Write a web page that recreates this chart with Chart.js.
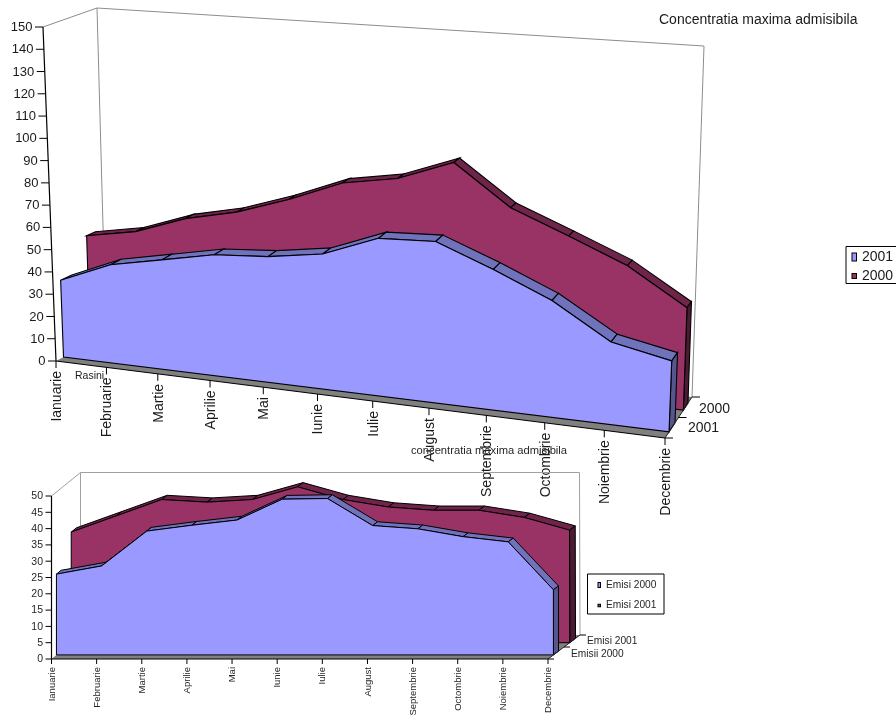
<!DOCTYPE html>
<html>
<head>
<meta charset="utf-8">
<title>Concentratia maxima admisibila</title>
<script src="https://cdn.jsdelivr.net/npm/chart.js@4/dist/chart.umd.min.js"></script>
<style>
  html, body { margin: 0; padding: 0; background: #fff; }
  #wrap { position: relative; width: 896px; height: 715px; overflow: hidden; }
  canvas { position: absolute; left: 0; top: 0; }
</style>
</head>
<body>
<div id="wrap">
  <canvas id="concentratie" width="896" height="715"></canvas>
  <canvas id="emisii" width="896" height="715"></canvas>
</div>
<script>
const months = ["Ianuarie", "Februarie", "Martie", "Aprilie", "Mai", "Iunie", "Iulie", "August", "Septembrie", "Octombrie", "Noiembrie", "Decembrie"];

const conc2001 = [34.6, 44, 48.6, 53.2, 54.8, 58.3, 67.4, 68.4, 59, 48.5, 34, 29];
const conc2000 = [49, 53, 61, 66, 73.7, 83, 87, 96, 78.5, 68.6, 58.3, 43];

const emisi2000 = [24.8, 27.3, 38, 39.8, 41.4, 47.8, 48, 39.7, 38.7, 36.3, 34.7, 20];
const emisi2001 = [34, 39, 44, 43.2, 44, 47.9, 44, 41.7, 40.7, 40.7, 38.5, 34.6];

const FONT = '"Liberation Sans", Arial, sans-serif';

function lerp(a, b, t) {
  return [a[0] + (b[0] - a[0]) * t, a[1] + (b[1] - a[1]) * t];
}

// scale pixel -> position inside the slanted box
function project(chart, view, px, py, depth) {
  const area = chart.chartArea;
  let u = (px - area.left) / (area.right - area.left);
  const v = (area.bottom - py) / (area.bottom - area.top);
  // months bunch up towards the far end, a bit more on the rear plane
  const w = view.persp + (view.perspBack - view.persp) * depth;
  u = u * w / (1 - u + u * w);
  const b = view.box;
  const front = lerp(lerp(b.fbl, b.fbr, u), lerp(b.ftl, b.ftr, u), v);
  const back = lerp(lerp(b.bbl, b.bbr, u), lerp(b.btl, b.btr, u), v);
  return lerp(front, back, depth);
}

function poly(ctx, pts, fill, stroke, width) {
  ctx.beginPath();
  pts.forEach(function(p, i) {
    if (i === 0) ctx.moveTo(p[0], p[1]);
    else ctx.lineTo(p[0], p[1]);
  });
  ctx.closePath();
  if (fill) {
    ctx.fillStyle = fill;
    ctx.fill();
  }
  if (stroke) {
    ctx.strokeStyle = stroke;
    ctx.lineWidth = width || 1;
    ctx.stroke();
  }
}

function line(ctx, a, b, color, width) {
  ctx.beginPath();
  ctx.moveTo(a[0], a[1]);
  ctx.lineTo(b[0], b[1]);
  ctx.strokeStyle = color;
  ctx.lineWidth = width || 1;
  ctx.stroke();
}

function text(ctx, str, x, y, font, color, align) {
  ctx.font = font;
  ctx.fillStyle = color;
  ctx.textAlign = align || "left";
  ctx.textBaseline = "middle";
  ctx.fillText(str, x, y);
}

const area3d = {
  id: "area3d",
  afterDraw(chart) {
    const ctx = chart.ctx;
    const view = chart.options.plugins.area3d;
    const b = view.box;
    const xs = chart.scales.x;
    const ys = chart.scales.y;
    ctx.save();

    // walls and floor
    poly(ctx, [b.fbl, b.fbr, b.bbr, b.bbl], "#808080");
    line(ctx, b.ftl, b.btl, view.wall);
    line(ctx, b.btl, b.btr, view.wall);
    line(ctx, b.btr, b.bbr, view.wall);
    line(ctx, b.btl, b.bbl, view.wall);

    // rear series first so the front one covers it
    for (let n = chart.data.datasets.length - 1; n >= 0; n--) {
      const ds = chart.data.datasets[n];
      const pts = chart.getDatasetMeta(n).data;
      const d0 = view.depths[n][0];
      const d1 = view.depths[n][1];
      const base = ys.getPixelForValue(0);
      for (let i = 0; i < pts.length - 1; i++) {
        poly(ctx, [
          project(chart, view, pts[i].x, pts[i].y, d0),
          project(chart, view, pts[i + 1].x, pts[i + 1].y, d0),
          project(chart, view, pts[i + 1].x, pts[i + 1].y, d1),
          project(chart, view, pts[i].x, pts[i].y, d1)
        ], ds.topColor, "#000", view.edge);
      }
      const last = pts[pts.length - 1];
      poly(ctx, [
        project(chart, view, last.x, base, d0),
        project(chart, view, last.x, last.y, d0),
        project(chart, view, last.x, last.y, d1),
        project(chart, view, last.x, base, d1)
      ], ds.sideColor, "#000", view.edge);

      const face = [project(chart, view, pts[0].x, base, d0)];
      pts.forEach(function(p) {
        face.push(project(chart, view, p.x, p.y, d0));
      });
      face.push(project(chart, view, last.x, base, d0));
      poly(ctx, face, ds.backgroundColor, "#000", view.edge);
    }

    // value axis
    const axisEnd = project(chart, view, xs.left, ys.getPixelForValue(ys.max), 0);
    const axisStart = project(chart, view, xs.left, ys.getPixelForValue(0), 0);
    line(ctx, axisStart, axisEnd, "#000", 1.2);
    ys.ticks.forEach(function(tick) {
      const p = project(chart, view, xs.left, ys.getPixelForValue(tick.value), 0);
      line(ctx, [p[0] - view.tickLen, p[1]], p, "#000");
      text(ctx, String(tick.value), p[0] - view.tickLen - 2.5, p[1] + 0.5, view.valueFont, view.ink, "right");
    });

    // month axis
    line(ctx, b.fbl, b.fbr, "#000", 1.2);
    months.forEach(function(m, i) {
      const p = project(chart, view, xs.getPixelForValue(i), ys.getPixelForValue(0), 0);
      line(ctx, p, [p[0], p[1] + view.tickLen - 1], "#000");
      ctx.save();
      ctx.translate(p[0] + view.labelDx, p[1] + view.labelGap);
      ctx.rotate(-Math.PI / 2);
      text(ctx, m, 0, 0, view.monthFont, view.ink, "right");
      ctx.restore();
    });

    // series axis on the floor
    line(ctx, b.fbr, b.bbr, "#222");
    [0, 0.5, 1].forEach(function(d) {
      const p = lerp(b.fbr, b.bbr, d);
      line(ctx, p, [p[0] + view.tickLen, p[1]], "#000");
    });
    view.seriesLabels.forEach(function(s) {
      text(ctx, s.text, s.x, s.y, view.seriesFont, view.ink);
    });

    // legend box
    const lg = view.legend;
    poly(ctx, [[lg.x, lg.y], [lg.x + lg.w, lg.y], [lg.x + lg.w, lg.y + lg.h], [lg.x, lg.y + lg.h]], "#fff", "#000", 1);
    lg.rows.forEach(function(r, i) {
      const ds = chart.data.datasets[r.series];
      ctx.fillStyle = ds.backgroundColor;
      ctx.fillRect(lg.swatchX, r.y - r.h / 2, lg.swatchW, r.h);
      ctx.strokeStyle = "#000";
      ctx.lineWidth = 1;
      ctx.strokeRect(lg.swatchX, r.y - r.h / 2, lg.swatchW, r.h);
      text(ctx, r.text, lg.textX, r.y, view.legendFont, view.ink);
    });

    view.notes.forEach(function(s) {
      text(ctx, s.text, s.x, s.y, s.font, view.ink);
    });
    ctx.restore();
  }
};

function chartOptions(maxValue, step, view) {
  return {
    responsive: false,
    animation: false,
    events: [],
    layout: { padding: 20 },
    scales: {
      x: { display: false, type: "category", offset: false },
      y: { display: false, min: 0, max: maxValue, ticks: { stepSize: step } }
    },
    plugins: {
      legend: { display: false },
      title: { display: false },
      tooltip: { enabled: false },
      area3d: view
    }
  };
}

function seriesStyle(label, values, fill, top, side) {
  return {
    label: label,
    data: values,
    backgroundColor: fill,
    topColor: top,
    sideColor: side,
    showLine: false,
    pointRadius: 0
  };
}

const blue = ["#9999ff", "#7073bb", "#55558f"];
const wine = ["#993366", "#6e2549", "#4b1a33"];

new Chart(document.getElementById("concentratie"), {
  type: "line",
  data: {
    labels: months,
    datasets: [
      seriesStyle("2001", conc2001, blue[0], blue[1], blue[2]),
      seriesStyle("2000", conc2000, wine[0], wine[1], wine[2])
    ]
  },
  options: chartOptions(150, 10, {
    box: {
      fbl: [56, 361], fbr: [665, 438], ftl: [43, 27], ftr: [679, 68],
      bbl: [106, 335], bbr: [692, 397], btl: [97, 8], btr: [704, 46]
    },
    persp: 0.903,
    perspBack: 0.885,
    depths: [[0.15, 0.37], [0.68, 0.85]],
    edge: 1.1,
    wall: "#8c8c8c",
    tickLen: 8,
    labelDx: 1,
    labelGap: 10,
    ink: "#1a1a1a",
    valueFont: "13px " + FONT,
    monthFont: "14px " + FONT,
    seriesFont: "14px " + FONT,
    legendFont: "14px " + FONT,
    seriesLabels: [
      { text: "2000", x: 699, y: 409 },
      { text: "2001", x: 688, y: 428 }
    ],
    legend: {
      x: 846, y: 246.5, w: 60, h: 37, swatchX: 852, swatchW: 4.5, textX: 862,
      rows: [
        { series: 0, text: "2001", y: 257, h: 8 },
        { series: 1, text: "2000", y: 276, h: 5 }
      ]
    },
    notes: [
      { text: "Concentratia maxima admisibila", x: 659, y: 20.5, font: "14px " + FONT },
      { text: "Rasini", x: 75, y: 376, font: "10.5px " + FONT }
    ]
  }),
  plugins: [area3d]
});

new Chart(document.getElementById("emisii"), {
  type: "line",
  data: {
    labels: months,
    datasets: [
      seriesStyle("Emisi 2000", emisi2000, blue[0], blue[1], blue[2]),
      seriesStyle("Emisi 2001", emisi2001, wine[0], wine[1], wine[2])
    ]
  },
  options: chartOptions(50, 5, {
    box: {
      fbl: [51.5, 659], fbr: [548, 659], ftl: [51.5, 496], ftr: [548, 496],
      bbl: [80.5, 635], bbr: [580, 635], btl: [80.5, 472.5], btr: [579.5, 472.5]
    },
    persp: 1,
    perspBack: 1,
    depths: [[0.17, 0.33], [0.68, 0.86]],
    edge: 1,
    wall: "#a0a0a0",
    tickLen: 6,
    labelDx: 0.5,
    labelGap: 8,
    ink: "#262626",
    valueFont: "10.5px " + FONT,
    monthFont: "9.5px " + FONT,
    seriesFont: "10.2px " + FONT,
    legendFont: "10.2px " + FONT,
    seriesLabels: [
      { text: "Emisi 2001", x: 587, y: 641 },
      { text: "Emisii 2000", x: 571, y: 654 }
    ],
    legend: {
      x: 587.5, y: 574, w: 76.5, h: 40, swatchX: 598, swatchW: 2.5, textX: 606,
      rows: [
        { series: 0, text: "Emisi 2000", y: 585, h: 5 },
        { series: 1, text: "Emisi 2001", y: 605.5, h: 2.5 }
      ]
    },
    notes: [
      { text: "concentratia maxima admisibila", x: 411, y: 450.5, font: "11.2px " + FONT }
    ]
  }),
  plugins: [area3d]
});
</script>
</body>
</html>
